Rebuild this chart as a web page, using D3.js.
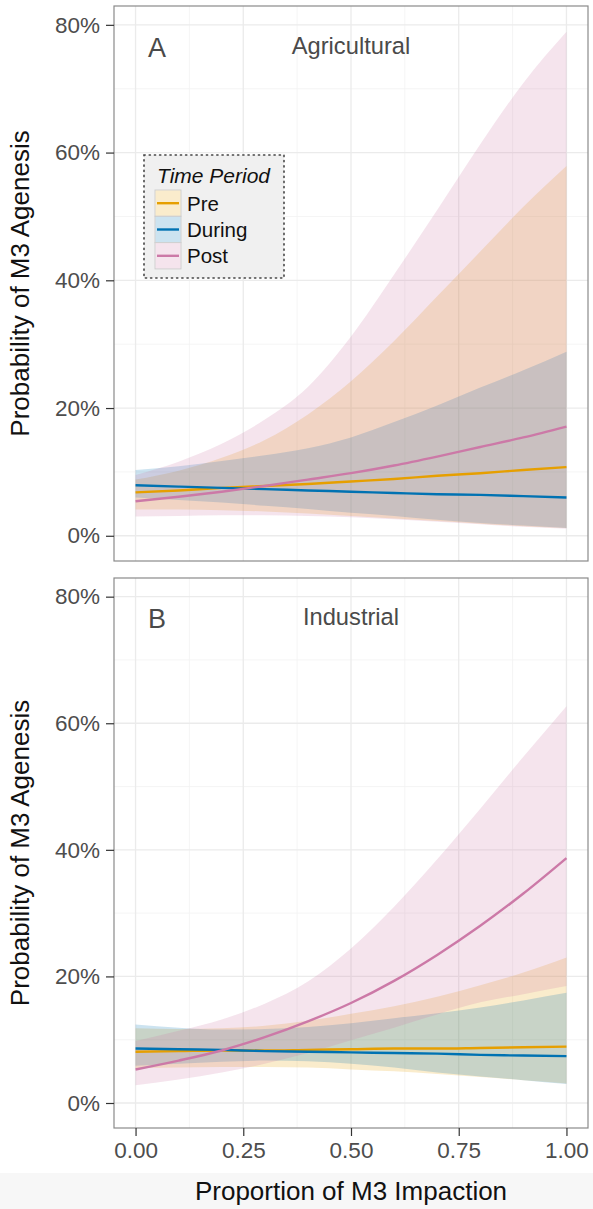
<!DOCTYPE html>
<html>
<head>
<meta charset="utf-8">
<script src="https://cdn.jsdelivr.net/npm/d3@7"></script>
<style>
  html, body { margin: 0; padding: 0; background: #fff; }
  svg { display: block; font-family: "Liberation Sans", Arial, Helvetica, sans-serif; }
</style>
</head>
<body>
<svg id="chart" width="593" height="1209"></svg>
<script>
// ---------- data (percent) ----------
const xValues = [0, 0.1, 0.2, 0.3, 0.4, 0.5, 0.6, 0.7, 0.8, 0.9, 1.0];
const periods = ["Pre", "During", "Post"];
const periodColors = ["#E69F00", "#0072B2", "#CC79A7"];

// Panel A — Agricultural
const preMeanA    = [6.8, 7.1, 7.5, 7.8, 8.1, 8.5, 8.9, 9.4, 9.8, 10.3, 10.75];
const preLowA     = [4.1, 4.1, 4.0, 3.8, 3.5, 3.1, 2.7, 2.3, 1.9, 1.5, 1.2];
const preHighA    = [8.8, 10.2, 12.2, 15.0, 19.0, 24.2, 30.5, 37.5, 44.5, 51.5, 57.9];
const duringMeanA = [7.9, 7.7, 7.5, 7.3, 7.1, 6.9, 6.7, 6.5, 6.4, 6.2, 6.0];
const duringLowA  = [6.0, 5.6, 5.2, 4.7, 4.2, 3.6, 3.1, 2.5, 2.0, 1.6, 1.2];
const duringHighA = [10.3, 10.9, 11.7, 12.6, 13.7, 15.4, 17.8, 20.4, 23.2, 25.9, 28.8];
const postMeanA   = [5.4, 6.1, 6.9, 7.8, 8.8, 9.8, 11.0, 12.4, 13.9, 15.4, 17.1];
const postLowA    = [3.0, 3.1, 3.2, 3.2, 3.1, 2.9, 2.6, 2.2, 1.8, 1.4, 1.1];
const postHighA   = [9.5, 11.6, 14.4, 18.2, 23.3, 31.2, 40.9, 51.0, 61.3, 70.9, 78.9];

// Panel B — Industrial
const preMeanB    = [8.1, 8.2, 8.3, 8.3, 8.4, 8.5, 8.6, 8.6, 8.7, 8.8, 8.9];
const preLowB     = [5.5, 5.6, 5.7, 5.7, 5.6, 5.3, 5.0, 4.6, 4.1, 3.6, 3.1];
const preHighB    = [11.8, 11.7, 11.8, 12.2, 13.0, 14.1, 15.3, 16.8, 18.6, 20.6, 23.0];
const duringMeanB = [8.6, 8.5, 8.4, 8.2, 8.1, 8.0, 7.9, 7.8, 7.6, 7.5, 7.4];
const duringLowB  = [5.9, 6.2, 6.5, 6.7, 6.6, 6.2, 5.6, 4.8, 4.2, 3.6, 3.0];
const duringHighB = [12.4, 11.9, 11.6, 11.7, 12.0, 12.6, 13.4, 14.2, 15.1, 16.2, 17.4];
const postMeanB   = [5.3, 6.7, 8.3, 10.4, 12.9, 15.8, 19.3, 23.4, 28.0, 33.1, 38.7];
const postLowB    = [2.8, 3.7, 4.8, 6.2, 7.9, 9.9, 11.9, 14.0, 15.9, 17.2, 18.5];
const postHighB   = [9.8, 11.4, 13.2, 15.7, 19.2, 24.4, 31.0, 38.5, 46.5, 54.7, 62.7];

const yTicks = [0, 20, 40, 60, 80];
const yMinor = [10, 30, 50, 70];
const xTicks = [0, 0.25, 0.5, 0.75, 1.0];
const xMinor = [0.125, 0.375, 0.625, 0.875];
const xTickLabels = ["0.00", "0.25", "0.50", "0.75", "1.00"];

const panels = [
  { letter: "A", title: "Agricultural", top: 6, bottom: 561, legend: true,
    series: [
      { mean: preMeanA, low: preLowA, high: preHighA },
      { mean: duringMeanA, low: duringLowA, high: duringHighA },
      { mean: postMeanA, low: postLowA, high: postHighA } ] },
  { letter: "B", title: "Industrial", top: 578, bottom: 1128, legend: false,
    series: [
      { mean: preMeanB, low: preLowB, high: preHighB },
      { mean: duringMeanB, low: duringLowB, high: duringHighB },
      { mean: postMeanB, low: postLowB, high: postHighB } ] }
];

// ---------- layout ----------
const svg = d3.select("#chart");
const left = 114, right = 588;
const x = d3.scaleLinear().domain([-0.05, 1.05]).range([left, right]);
const tickFont = 22.5;
const tickColor = "#4d4d4d";

// light grey band at the bottom of the picture
svg.append("rect").attr("x", 0).attr("y", 1173).attr("width", 593).attr("height", 36)
  .attr("fill", "#f7f7f7");

panels.forEach((p, pi) => {
  const y = d3.scaleLinear().domain([-3.95, 82.95]).range([p.bottom, p.top]);
  const g = svg.append("g");

  g.append("rect").attr("x", left).attr("y", p.top).attr("width", right - left)
    .attr("height", p.bottom - p.top).attr("fill", "#fff");

  // grid
  g.selectAll(".ymin").data(yMinor).join("line")
    .attr("x1", left).attr("x2", right).attr("y1", d => y(d)).attr("y2", d => y(d))
    .attr("stroke", "#f2f2f2").attr("stroke-width", 0.8);
  g.selectAll(".xmin").data(xMinor).join("line")
    .attr("y1", p.top).attr("y2", p.bottom).attr("x1", d => x(d)).attr("x2", d => x(d))
    .attr("stroke", "#f2f2f2").attr("stroke-width", 0.8);
  g.selectAll(".ymaj").data(yTicks).join("line")
    .attr("x1", left).attr("x2", right).attr("y1", d => y(d)).attr("y2", d => y(d))
    .attr("stroke", "#ebebeb").attr("stroke-width", 1.3);
  g.selectAll(".xmaj").data(xTicks).join("line")
    .attr("y1", p.top).attr("y2", p.bottom).attr("x1", d => x(d)).attr("x2", d => x(d))
    .attr("stroke", "#ebebeb").attr("stroke-width", 1.3);

  // ribbons
  const area = d3.area()
    .x((d, i) => x(xValues[i]))
    .y0(d => y(d[0])).y1(d => y(d[1]))
    .curve(d3.curveMonotoneX);
  p.series.forEach((s, si) => {
    const pts = s.low.map((v, i) => [v, s.high[i]]);
    g.append("path").datum(pts).attr("d", area)
      .attr("fill", periodColors[si]).attr("fill-opacity", 0.2);
  });

  // lines
  const line = d3.line()
    .x((d, i) => x(xValues[i])).y(d => y(d))
    .curve(d3.curveMonotoneX);
  p.series.forEach((s, si) => {
    g.append("path").datum(s.mean).attr("d", line)
      .attr("fill", "none").attr("stroke", periodColors[si]).attr("stroke-width", 2.4);
  });

  // panel border
  g.append("rect").attr("x", left).attr("y", p.top).attr("width", right - left)
    .attr("height", p.bottom - p.top).attr("fill", "none")
    .attr("stroke", "#8a8a8a").attr("stroke-width", 1.2);

  // y axis
  const yAxis = d3.axisLeft(y).tickValues(yTicks).tickSize(8).tickPadding(6)
    .tickFormat(d => d + "%");
  const ya = g.append("g").attr("transform", `translate(${left},0)`).call(yAxis);
  ya.select(".domain").remove();
  ya.selectAll(".tick line").attr("stroke", "#333").attr("stroke-width", 1.2);
  ya.selectAll(".tick text").attr("fill", tickColor).style("font-size", tickFont + "px")
    .style("font-family", "'Liberation Sans', Arial, sans-serif");

  // annotations
  g.append("text").attr("x", x(0.05)).attr("y", y(75.5) + 3).attr("text-anchor", "middle")
    .attr("fill", "#4a4a4a").style("font-size", "27px").text(p.letter);
  g.append("text").attr("x", x(0.5)).attr("y", y(75.5)).attr("text-anchor", "middle")
    .attr("fill", "#4a4a4a").style("font-size", "23.7px").text(p.title);

  // y title
  svg.append("text")
    .attr("transform", `translate(29,${(p.top + p.bottom) / 2}) rotate(-90)`)
    .attr("text-anchor", "middle").attr("fill", "#111").style("font-size", "26px")
    .text("Probability of M3 Agenesis");

  // x axis on bottom panel
  if (pi === panels.length - 1) {
    const xAxis = d3.axisBottom(x).tickValues(xTicks).tickSize(8).tickPadding(6)
      .tickFormat((d, i) => xTickLabels[i]);
    const xa = svg.append("g").attr("transform", `translate(0,${p.bottom})`).call(xAxis);
    xa.select(".domain").remove();
    xa.selectAll(".tick line").attr("stroke", "#333").attr("stroke-width", 1.2);
    xa.selectAll(".tick text").attr("fill", tickColor).style("font-size", tickFont + "px")
      .style("font-family", "'Liberation Sans', Arial, sans-serif");
  }

  // legend
  if (p.legend) {
    const lg = g.append("g");
    const lx = 144, ly = 155, lw = 140, lh = 123;
    lg.append("rect").attr("x", lx).attr("y", ly).attr("width", lw).attr("height", lh)
      .attr("fill", "#f0f0f0").attr("stroke", "#444").attr("stroke-width", 1.6)
      .attr("stroke-dasharray", "1.2,4").attr("stroke-linecap", "round");
    lg.append("text").attr("x", lx + 13).attr("y", ly + 28)
      .style("font-size", "21px").style("font-style", "italic").attr("fill", "#111")
      .text("Time Period");
    periods.forEach((name, i) => {
      const ky = ly + 35 + i * 26.3;
      lg.append("rect").attr("x", lx + 11).attr("y", ky).attr("width", 26).attr("height", 26.3)
        .attr("fill", "#fff").attr("stroke", "#cfcfcf").attr("stroke-width", 1);
      lg.append("rect").attr("x", lx + 11.5).attr("y", ky + 0.5).attr("width", 25).attr("height", 25.3)
        .attr("fill", periodColors[i]).attr("fill-opacity", 0.2);
      lg.append("line").attr("x1", lx + 13).attr("x2", lx + 35)
        .attr("y1", ky + 13.2).attr("y2", ky + 13.2)
        .attr("stroke", periodColors[i]).attr("stroke-width", 2.4);
      lg.append("text").attr("x", lx + 43).attr("y", ky + 20.5)
        .style("font-size", "20.5px").attr("fill", "#111").text(name);
    });
  }
});

// x title
svg.append("text").attr("x", x(0.5)).attr("y", 1200).attr("text-anchor", "middle")
  .attr("fill", "#111").style("font-size", "26px").text("Proportion of M3 Impaction");
</script>
</body>
</html>
